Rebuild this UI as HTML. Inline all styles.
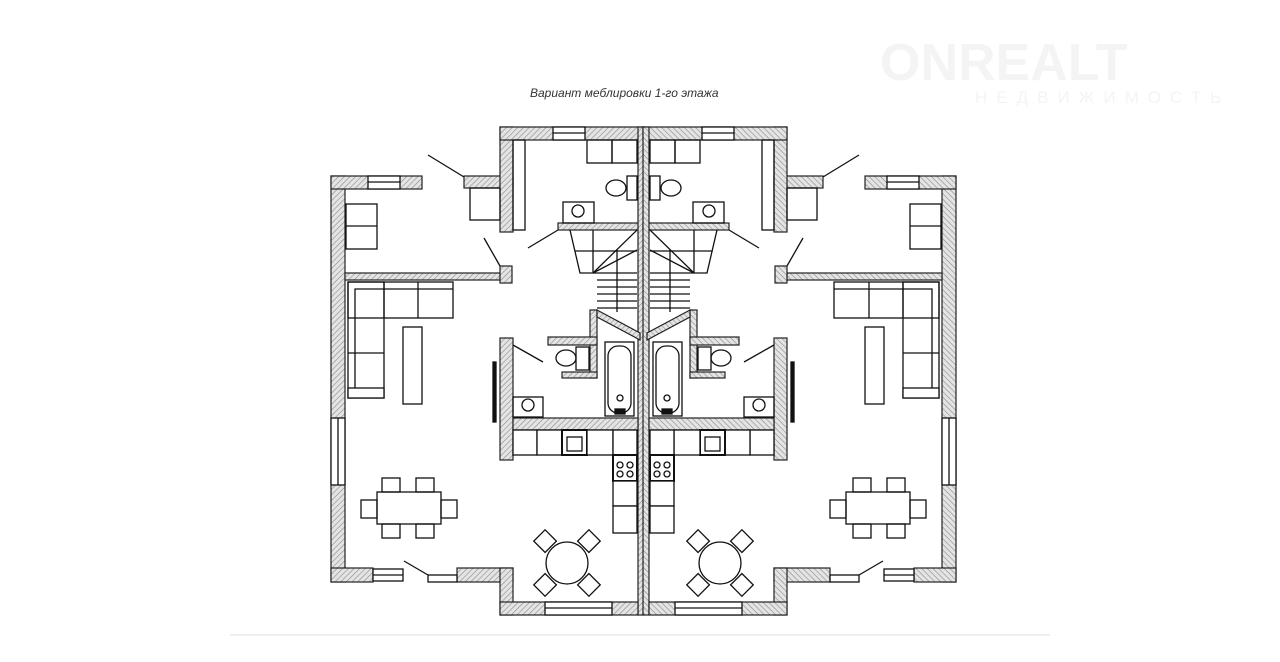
<!DOCTYPE html>
<html><head><meta charset="utf-8"><style>
html,body{margin:0;padding:0;background:#fff;width:1280px;height:662px;overflow:hidden}
svg{display:block}
</style></head><body>
<svg width="1280" height="662" viewBox="0 0 1280 662" xmlns="http://www.w3.org/2000/svg">
<defs>
<pattern id="h" patternUnits="userSpaceOnUse" width="4" height="4" patternTransform="rotate(45)">
<rect width="4" height="4" fill="#e4e4e4"/><line x1="0" y1="0" x2="0" y2="4" stroke="#8a8a8a" stroke-width="1.2"/>
</pattern>
</defs>
<text x="880" y="80" font-family="Liberation Sans, sans-serif" font-size="52" font-weight="bold" fill="#f4f4f4">  ONREALT</text>
<text x="975" y="103" font-family="Liberation Sans, sans-serif" font-size="17" fill="#f4f4f4" letter-spacing="9">НЕДВИЖИМОСТЬ</text>
<text x="530" y="97" font-family="Liberation Sans, DejaVu Sans, sans-serif" font-size="12" font-style="italic" fill="#333">Вариант меблировки 1-го этажа</text>
<line x1="230" y1="635" x2="1050" y2="635" stroke="#eee" stroke-width="2"/>

<g id="half" stroke="#111" stroke-width="1.3" fill="none">
<!-- walls -->
<g fill="url(#h)" stroke="#222" stroke-width="1.2">
<rect x="331" y="176" width="14" height="406"/>
<rect x="331" y="176" width="91" height="13"/>
<rect x="464" y="176" width="49" height="12"/>
<rect x="500" y="127" width="13" height="105"/>
<rect x="500" y="127" width="144" height="13"/>
<rect x="345" y="273" width="155" height="7"/>
<rect x="500" y="266" width="12" height="17"/>
<rect x="558" y="223" width="86" height="7"/>
<rect x="638" y="127" width="6" height="488"/>
<rect x="590" y="310" width="7" height="68"/>
<polygon points="597,310 640,333 640,340 597,317"/>
<rect x="548" y="337" width="49" height="8"/>
<rect x="562" y="372" width="35" height="6"/>
<rect x="500" y="338" width="13" height="122"/>
<rect x="513" y="418" width="125" height="12"/>
<rect x="331" y="568" width="42" height="14"/>
<rect x="457" y="568" width="56" height="14"/>
<rect x="500" y="568" width="13" height="47"/>
<rect x="500" y="602" width="138" height="13"/>
</g>
<!-- windows -->
<g fill="#fff">
<rect x="368" y="176" width="32" height="13"/><line x1="368" y1="182" x2="400" y2="182"/>
<rect x="553" y="127" width="32" height="13"/><line x1="553" y1="133" x2="585" y2="133"/>
<rect x="331" y="418" width="14" height="67"/><line x1="338" y1="418" x2="338" y2="485"/>
<rect x="373" y="569" width="30" height="12"/><line x1="373" y1="575" x2="403" y2="575"/>
<rect x="428" y="575" width="29" height="7"/>
<rect x="545" y="602" width="67" height="13"/><line x1="545" y1="608" x2="612" y2="608"/>
</g>
<line x1="428" y1="575" x2="404" y2="561"/>
<rect x="493" y="362" width="3" height="60" fill="#111"/>
<!-- doors -->
<line x1="428" y1="155" x2="464" y2="177"/>
<line x1="484" y1="238" x2="500" y2="266"/>
<line x1="528" y1="248" x2="558" y2="230"/>
<line x1="513" y1="345" x2="543" y2="362"/>
<!-- upper left room -->
<rect x="346" y="204" width="31" height="45"/><line x1="346" y1="226" x2="377" y2="226"/>
<rect x="470" y="188" width="30" height="32"/>
<rect x="513" y="140" width="12" height="90"/>
<!-- living -->
<rect x="348" y="282" width="105" height="36"/>
<rect x="348" y="282" width="36" height="116"/>
<polyline points="453,289 355,289 355,388"/>
<line x1="384" y1="282" x2="384" y2="318"/><line x1="418" y1="282" x2="418" y2="318"/><line x1="348" y1="353" x2="384" y2="353"/>
<rect x="348" y="388" width="36" height="10" fill="#fff"/>
<rect x="403" y="327" width="19" height="77"/>
<!-- bathroom top -->
<rect x="587" y="140" width="25" height="23"/><rect x="612" y="140" width="25" height="23"/>
<rect x="627" y="176" width="10" height="24"/><ellipse cx="616" cy="188" rx="10" ry="8"/>
<rect x="563" y="202" width="31" height="21"/><circle cx="578" cy="211" r="6"/>
<!-- stairs -->
<polyline points="570,230 580,273 637,273"/>
<line x1="593" y1="230" x2="593" y2="273"/>
<line x1="575" y1="251" x2="637" y2="251"/>
<line x1="593" y1="273" x2="637" y2="230"/>
<line x1="593" y1="273" x2="637" y2="250"/>
<line x1="617" y1="250" x2="617" y2="312"/>
<g><line x1="597" y1="280" x2="637" y2="280"/><line x1="597" y1="287" x2="637" y2="287"/><line x1="597" y1="294" x2="637" y2="294"/><line x1="597" y1="301" x2="637" y2="301"/><line x1="597" y1="308" x2="637" y2="308"/></g>
<!-- WC -->
<rect x="576" y="347" width="13" height="23"/><ellipse cx="566" cy="358" rx="10" ry="8"/>
<rect x="513" y="397" width="30" height="20"/><circle cx="528" cy="405" r="6"/>
<rect x="605" y="342" width="29" height="74"/><rect x="608" y="346" width="23" height="67" rx="10"/>
<circle cx="620" cy="398" r="3"/><rect x="615" y="409" width="10" height="5" fill="#111"/>
<!-- kitchen -->
<g fill="#fff">
<rect x="513" y="430" width="24" height="25"/><rect x="537" y="430" width="25" height="25"/>
<rect x="562" y="430" width="25" height="25" stroke-width="2"/><rect x="567" y="437" width="15" height="14"/>
<rect x="587" y="430" width="26" height="25"/>
<rect x="613" y="430" width="24" height="25"/>
<rect x="613" y="455" width="24" height="26" stroke-width="2"/>
<rect x="613" y="481" width="24" height="25"/><rect x="613" y="506" width="24" height="27"/>
</g>
<circle cx="620" cy="465" r="3"/><circle cx="630" cy="465" r="3"/><circle cx="620" cy="474" r="3"/><circle cx="630" cy="474" r="3"/>
<!-- round table -->
<circle cx="567" cy="563" r="21"/>
<g transform="translate(567,563)">
<rect x="-8" y="-8" width="16" height="16" transform="rotate(45) translate(-31,0)"/>
<rect x="-8" y="-8" width="16" height="16" transform="rotate(135) translate(-31,0)"/>
<rect x="-8" y="-8" width="16" height="16" transform="rotate(225) translate(-31,0)"/>
<rect x="-8" y="-8" width="16" height="16" transform="rotate(315) translate(-31,0)"/>
</g>
<!-- dining -->
<rect x="377" y="492" width="64" height="32"/>
<rect x="382" y="478" width="18" height="14"/><rect x="416" y="478" width="18" height="14"/>
<rect x="382" y="524" width="18" height="14"/><rect x="416" y="524" width="18" height="14"/>
<rect x="361" y="500" width="16" height="18"/><rect x="441" y="500" width="16" height="18"/>
</g>
<use href="#half" transform="translate(1287,0) scale(-1,1)"/>
</svg>
</body></html>
